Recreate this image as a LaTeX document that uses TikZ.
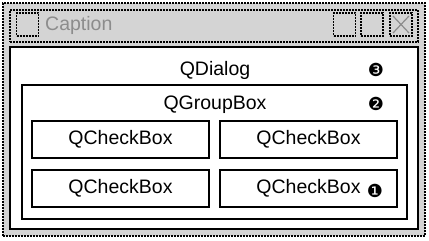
\documentclass[tikz,border=0pt]{standalone}
\usepackage{fontspec}
\setmainfont{Liberation Sans}
\newfontfamily\dingfont{DejaVu Sans}
\definecolor{wingray}{RGB}{212,212,212}
\definecolor{capgray}{RGB}{140,140,140}
\begin{document}
\begin{tikzpicture}[x=1pt,y=-1pt,
  dashframe/.style={draw=black, line width=1.6pt, dash pattern=on 2pt off 1pt, fill=wingray, inner sep=0pt, outer sep=0pt},
  solidframe/.style={draw=black, line width=2pt, inner sep=0pt, outer sep=0pt},
  cbox/.style={solidframe, minimum width=177pt, minimum height=37pt, font=\fontsize{19.5}{20}\selectfont},
  lbl/.style={inner sep=0pt, font=\fontsize{19.5}{20}\selectfont},
  num/.style={inner sep=0pt, font=\dingfont\fontsize{18}{18}\selectfont},
  tbtn/.style={dashframe, minimum width=22pt, minimum height=23pt}
]
\useasboundingbox (0,0) rectangle (429,241);
% window
\node[dashframe, minimum width=422pt, minimum height=233pt] (win) at (214,119.5) {};
\node[dashframe, minimum width=408pt, minimum height=32pt] (title) at (214,26) {};
\node[tbtn] (sysbtn) at (27.5,24.5) {};
\node[tbtn] (minbtn) at (344.5,24.5) {};
\node[tbtn] (maxbtn) at (372,24.5) {};
\node[tbtn] (closebtn) at (401,24.5) {};
\draw[capgray, line width=1.2pt] (closebtn.north west) ++(3,3) -- ++(16,17);
\draw[capgray, line width=1.2pt] (closebtn.north east) ++(-3,3) -- ++(-16,17);
\node[lbl, anchor=base west, text=capgray] (caption) at (45,30.5) {Caption};
% dialog client area
\node[solidframe, fill=white, minimum width=408pt, minimum height=182pt] (dialog) at (214,138) {};
\node[lbl, anchor=base] (dlglbl) at (215,75) {QDialog};
\node[num] (n3) at (376,70) {❸};
% group box
\node[solidframe, minimum width=385pt, minimum height=134pt] (group) at (214.5,152) {};
\node[lbl, anchor=base] (grplbl) at (215,109) {QGroupBox};
\node[num] (n2) at (376,104) {❷};
% check boxes
\node[cbox] (cb1) at (120.5,139) {QCheckBox};
\node[cbox] (cb2) at (308.5,139) {QCheckBox};
\node[cbox] (cb3) at (120.5,188) {QCheckBox};
\node[cbox] (cb4) at (308.5,188) {QCheckBox};
\node[num] (n1) at (375,191) {❶};
\end{tikzpicture}
\end{document}
